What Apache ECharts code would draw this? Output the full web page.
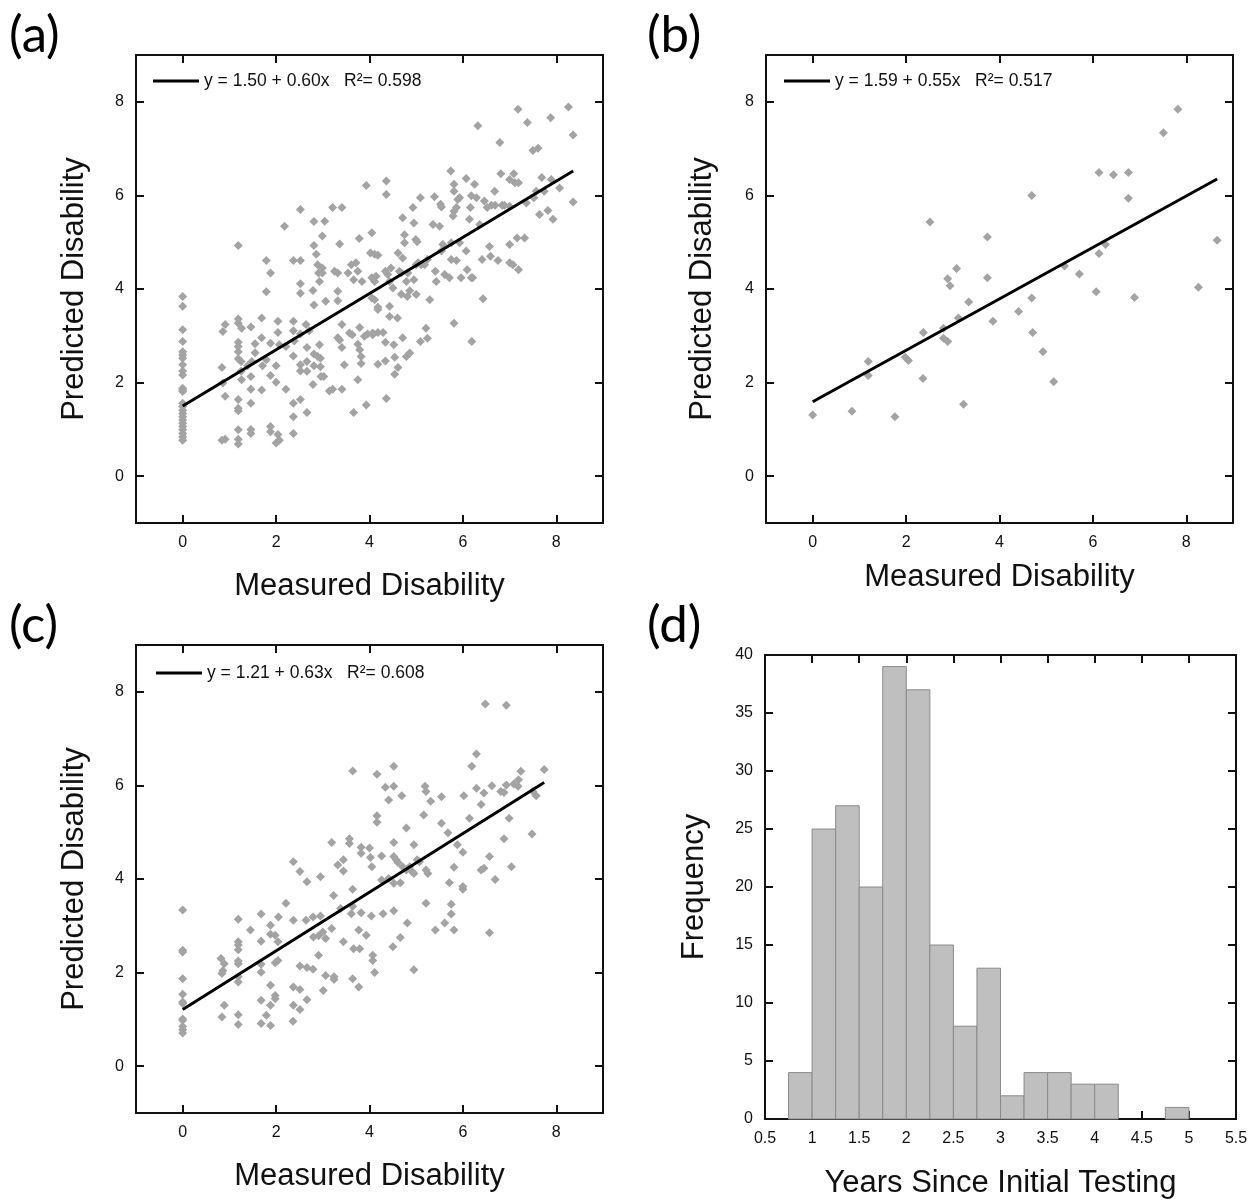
<!DOCTYPE html>
<html>
<head>
<meta charset="utf-8">
<script src="https://cdn.jsdelivr.net/npm/echarts@6/dist/echarts.min.js"></script>
<style>
body { margin: 0; background: #fff; }
#chart { width: 1260px; height: 1201px; }
</style>
</head>
<body>
<div id="chart"></div>
<script>
// tick labels
var disabilityTicks = [0, 2, 4, 6, 8];

// (a) measured vs predicted disability
var pointsA = [
  [0,3.84],[0,3.63],[0,3.13],[0,2.88],[0,2.66],[0,2.59],[0,2.52],[0,2.38],[0,2.25],[0,2.16],[0,1.88],[0,1.84],[0,1.81],
  [0,1.56],[0,1.49],[0,1.41],[0,1.34],[0,1.27],[0,1.2],[0,1.13],[0,1.06],[0,0.99],[0,0.91],[0,0.84],[0,0.77],
  [0.86,3.09],[0.91,3.24],[0.84,2.32],[0.86,1.99],[0.91,1.71],[0.84,0.77],[0.91,0.79],
  [1.19,4.93],[1.19,3.36],[1.19,3.27],[1.26,3.16],[1.19,2.86],[1.19,2.77],[1.19,2.66],[1.19,2.51],[1.25,2.45],[1.25,2.24],
  [1.26,2.06],[1.19,1.64],[1.19,1.45],[1.19,1.40],[1.19,0.99],[1.19,0.79],[1.19,0.69],
  [1.46,3.19],[1.55,2.83],[1.55,2.64],[1.48,2.45],[1.39,2.36],[1.46,2.13],[1.46,1.86],[1.46,1.56],[1.46,1.0],[1.46,0.91],
  [1.69,3.38],[1.69,2.96],[1.69,1.84],[1.79,4.61],[1.88,4.34],[1.79,3.94],[1.79,2.49],[1.88,2.84],[1.88,2.15],[1.88,1.06],
  [1.88,0.95],[1.71,2.36],
  [2.04,3.31],[2.04,3.07],[2.07,2.81],[2.0,2.36],[2.0,2.01],[2.21,2.77],[2.21,1.86],[2.18,5.34],[2.04,0.89],[2.0,0.71],[2.07,0.77],
  [2.37,3.31],[2.37,3.11],[2.39,2.89],[2.37,2.57],[2.37,1.56],[2.37,1.27],[2.37,0.91],[2.37,4.61],[2.52,4.61],[2.52,5.7],
  [2.52,4.11],[2.52,3.91],[2.52,3.04],[2.52,2.38],[2.52,2.25],[2.52,1.64],[2.64,3.24],[2.66,2.75],[2.66,2.45],[2.66,2.24],
  [2.66,1.36],[2.71,3.11],
  [2.79,3.97],[2.81,5.44],[2.81,4.93],[2.81,3.66],[2.81,2.61],[2.81,2.36],[2.79,1.96],[2.86,4.74],[2.89,4.52],[2.91,4.34],
  [2.93,4.16],[2.89,2.56],[2.95,2.52],[2.93,2.81],[2.99,4.34],[2.99,5.13],[3.04,5.45],[3.06,3.74],[3.02,2.13],[2.95,2.34],
  [2.96,2.13],[2.99,4.45],
  [3.21,5.74],[3.25,4.38],[3.32,4.34],[3.36,4.96],[3.32,3.95],[3.32,3.75],[3.32,2.96],[3.36,2.91],[3.41,2.75],[3.46,2.38],
  [3.14,1.82],[3.21,1.86],[3.41,1.86],[3.41,5.74],[3.41,3.24],
  [3.54,4.34],[3.61,4.52],[3.66,4.2],[3.71,4.56],[3.75,4.38],[3.84,4.16],[3.57,3.06],[3.63,3.02],[3.79,3.18],[3.75,2.82],
  [3.79,2.7],[3.82,2.56],[3.82,2.41],[3.75,2.06],[3.66,1.36],[3.78,5.08],[3.93,6.21],[3.89,2.99],[3.96,3.04],[3.93,1.52],
  [4.02,4.77],[4.05,5.2],[4.11,4.74],[4.18,4.72],[4.05,4.24],[4.11,4.16],[4.14,4.27],[4.05,3.81],[4.11,3.77],[4.18,3.56],
  [4.18,3.61],[4.07,3.06],[4.18,3.07],[4.29,3.07],[4.07,3.02],[4.18,2.39],[4.34,2.46],[4.36,6.31],[4.36,6.02],[4.34,4.38],
  [4.39,4.31],[4.36,1.66],[4.34,2.86],[4.43,3.63],[4.43,3.41],[4.52,2.81],[4.54,2.54],[4.61,4.77],[4.6,3.38],[4.54,2.18],
  [4.61,2.32],[4.43,4.16],[4.5,4.02],[4.46,4.45],[4.64,4.38],
  [4.71,5.52],[4.75,5.16],[4.75,4.99],[4.71,4.66],[4.68,4.34],[4.68,3.89],[4.71,2.96],[4.79,4.16],[4.81,3.84],[4.82,4.34],
  [4.86,2.63],[4.79,2.56],[4.93,5.74],[4.95,5.41],[4.99,5.06],[5.02,5.01],[5.0,4.52],[4.95,4.2],[5.0,3.88],[4.86,3.96],
  [5.04,4.56],[5.09,5.95],[5.11,4.52],[5.09,2.88],[5.21,3.16],[5.24,2.95],[5.29,3.77],
  [5.18,4.52],[5.24,4.63],[5.36,5.38],[5.39,5.97],[5.41,4.38],[5.43,4.16],[5.5,5.34],[5.52,5.81],[5.54,5.75],[5.54,4.81],
  [5.57,4.95],[5.61,4.31],[5.71,4.24],[5.74,6.52],[5.75,4.99],[5.75,4.63],[5.81,6.24],[5.81,6.09],[5.81,3.27],[5.81,5.66],
  [5.79,5.56],[5.86,4.61],[5.89,5.91],[5.93,5.95],[5.93,4.99],[5.96,4.24],[5.86,5.74],
  [6.07,6.36],[6.07,4.81],[6.09,4.41],[6.14,5.49],[6.16,5.74],[6.18,5.99],[6.18,4.24],[6.21,4.24],[6.19,2.88],[6.25,6.24],
  [6.29,5.95],[6.32,7.49],[6.36,5.38],[6.41,4.63],[6.43,3.79],[6.46,5.88],[6.52,5.74],[6.57,4.91],[6.59,4.7],[6.61,5.79],
  [6.68,6.09],[6.69,5.79],[6.75,4.61],[6.79,7.13],[6.81,6.46],[6.84,5.79],[6.89,5.79],[7.0,6.34],[7.0,5.77],[7.0,4.95],
  [7.0,4.56],[7.07,4.52],[7.09,6.46],[7.11,6.27],[7.18,7.84],[7.19,6.27],[7.16,5.09],[7.19,4.41],[7.32,5.09],[7.38,7.56],
  [7.36,5.84],[7.5,6.96],[7.52,5.95],[7.57,6.09],[7.61,7.01],[7.64,5.59],[7.69,6.38],[7.74,6.09],[7.82,5.68],[7.88,7.66],
  [7.89,6.34],[7.93,5.49],[8.07,6.16],[8.26,7.89],[8.36,7.29],[8.36,5.86]
];
var fitA = [[0, 1.50], [8.36, 6.52]];
var labelA = 'y = 1.50 + 0.60x   R²= 0.598';

// (b)
var pointsB = [
  [0,1.31],[0.84,1.39],[1.76,1.27],[1.19,2.45],[1.19,2.15],[1.98,2.54],[2.05,2.47],[2.36,2.09],[2.37,3.07],[2.51,5.43],
  [2.8,3.16],[2.8,2.95],[2.89,2.88],[2.89,4.22],[2.94,4.07],[3.08,4.44],[3.12,3.38],[3.23,1.54],[3.34,3.72],[3.74,5.11],
  [3.74,4.24],[3.86,3.31],[4.41,3.52],[4.69,6.0],[4.69,3.81],[4.71,3.07],[4.93,2.66],[5.16,2.02],[5.39,4.49],[5.71,4.32],
  [6.07,3.94],[6.13,6.49],[6.13,4.76],[6.27,4.95],[6.44,6.44],[6.76,6.49],[6.76,5.94],[6.89,3.82],[7.51,7.34],[7.82,7.84],
  [8.26,4.04],[8.66,5.04]
];
var fitB = [[0, 1.59], [8.66, 6.35]];
var labelB = 'y = 1.59 + 0.55x   R²= 0.517';

// (c)
var pointsC = [
  [0,3.34],[0,2.48],[0,2.44],[0,1.87],[0,1.54],[0,1.37],[0,1.34],[0,1.01],[0,0.98],[0,0.85],[0,0.78],[0,0.71],
  [0.82,2.3],[0.89,2.19],[0.84,1.98],[0.86,2.04],[0.89,1.3],[0.84,1.05],
  [1.19,3.14],[1.19,2.66],[1.19,2.59],[1.19,2.49],[1.19,2.25],[1.19,2.19],[1.19,1.91],[1.19,1.8],[1.19,1.1],[1.19,0.89],
  [1.45,2.91],[1.68,3.25],[1.68,2.67],[1.68,2.18],[1.68,2.01],[1.68,1.41],[1.68,0.91],[1.79,1.09],
  [1.88,3.01],[1.88,2.82],[1.98,2.8],[2.04,2.66],[2.04,2.26],[1.98,2.21],[1.88,1.73],[1.88,1.3],[1.88,0.87],[1.98,1.51],
  [1.98,1.44],[2.05,3.19],[2.21,3.48],
  [2.37,4.37],[2.37,3.12],[2.37,1.69],[2.37,1.3],[2.36,0.96],[2.51,4.16],[2.51,2.14],[2.51,1.64],[2.51,1.21],
  [2.66,3.94],[2.64,3.12],[2.66,1.42],[2.66,2.11],[2.79,3.19],[2.8,2.76],[2.79,2.07],[2.91,2.37],
  [2.95,4.05],[2.95,3.21],[3.0,2.87],[2.91,2.79],[3.01,1.62],[3.06,2.73],[3.06,1.94],[3.19,2.94],[3.24,1.91],[3.24,1.85],
  [3.19,4.78],[3.23,3.65],[3.32,4.3],[3.38,3.37],[3.44,4.41],[3.44,4.17],[3.44,2.66],[3.57,4.86],[3.57,4.76],[3.64,6.31],
  [3.64,3.78],[3.64,3.41],[3.61,3.26],[3.64,1.87],[3.66,2.51],[3.79,2.51],[3.77,1.69],[3.77,2.91],[3.82,4.68],[3.82,4.55],
  [3.82,3.28],[3.93,2.8],
  [4.0,4.66],[4.02,4.46],[4.05,4.26],[4.04,3.21],[4.07,2.37],[4.07,2.26],[4.11,2.0],[4.16,6.24],[4.16,5.35],[4.16,5.21],
  [4.26,4.49],[4.26,3.98],[4.29,3.26],[4.34,5.96],[4.41,5.69],[4.41,4.01],[4.52,6.41],[4.52,5.98],[4.52,4.78],[4.52,4.48],
  [4.52,3.91],[4.52,3.32],[4.5,2.55],[4.57,4.41],[4.61,4.35],[4.69,5.78],[4.66,3.92],[4.66,2.75],[4.71,4.26],[4.79,5.09],
  [4.79,4.19],[4.81,3.06],[4.86,4.26],[4.91,4.16],[4.95,4.73],[4.95,4.12],[4.95,2.06],[5.02,4.41],[5.07,4.37],
  [5.16,5.37],[5.19,5.98],[5.21,5.87],[5.21,4.19],[5.25,4.12],[5.21,3.48],[5.31,5.66],[5.41,2.91],[5.54,5.76],[5.54,5.19],
  [5.68,4.99],[5.71,3.92],[5.61,3.06],[5.75,3.46],[5.75,3.25],[5.81,4.25],[5.81,2.91],[5.88,4.73],[6.0,4.57],[6.0,3.84],
  [6.0,3.78],[6.02,5.78],[6.14,5.3],[6.19,6.41],[6.29,6.67],[6.29,5.94],[6.39,5.59],[6.39,4.19],[6.45,4.23],[6.45,5.84],
  [6.48,7.74],[6.57,4.48],[6.57,2.85],[6.62,5.99],[6.69,3.99],[6.81,5.87],[6.88,5.85],[6.88,4.86],[6.93,7.71],[6.93,6.01],
  [6.99,5.3],[7.04,4.26],[7.09,6.03],[7.18,5.98],[7.19,6.12],[7.24,6.3],[7.48,4.96],[7.5,5.87],[7.57,5.78],[7.74,6.34]
];
var fitC = [[0, 1.21], [7.74, 6.06]];
var labelC = 'y = 1.21 + 0.63x   R²= 0.608';

// (d) histogram of years since initial testing
var binStarts = [0.75, 1, 1.25, 1.5, 1.75, 2, 2.25, 2.5, 2.75, 3, 3.25, 3.5, 3.75, 4, 4.25, 4.5, 4.75];
var binCounts = [4, 25, 27, 20, 39, 37, 15, 8, 13, 2, 4, 4, 3, 3, 0, 0, 1];
var binWidth = 0.25;

var font = 'Liberation Sans, Arial, sans-serif';
var ink = '#111';

var histData = binStarts.map(function (s, i) {
  return [s, s + binWidth, binCounts[i]];
});

// grid boxes in px
var grids = [
  { left: 136, top: 55, width: 467, height: 468 },
  { left: 766, top: 55, width: 467, height: 468 },
  { left: 136, top: 645, width: 467, height: 468 },
  { left: 765, top: 655, width: 471, height: 464 }
];

function baseAxis(gridIndex, position, showLabel) {
  return {
    type: 'value',
    gridIndex: gridIndex,
    position: position,
    axisLine: { show: true, onZero: false, lineStyle: { color: ink, width: 2 } },
    axisTick: { show: true, inside: true, length: 8, lineStyle: { color: ink, width: 2 } },
    axisLabel: { show: showLabel, color: ink, fontSize: 16, fontFamily: font, margin: 12 },
    splitLine: { show: false }
  };
}

function disabilityAxis(gridIndex, position, showLabel) {
  var ax = baseAxis(gridIndex, position, showLabel);
  ax.min = -1;
  ax.max = 9;
  ax.axisTick.customValues = disabilityTicks;
  ax.axisLabel.customValues = disabilityTicks;
  return ax;
}

function nameStyle() {
  return { fontSize: 31, color: ink, fontFamily: font };
}

var xAxes = [];
var yAxes = [];
var xGaps = [48, 39, 48];
var yGaps = [46, 48, 46];
for (var g = 0; g < 3; g++) {
  var xb = disabilityAxis(g, 'bottom', true);
  xb.name = 'Measured Disability';
  xb.nameLocation = 'middle';
  xb.nameGap = xGaps[g];
  xb.nameTextStyle = nameStyle();
  xAxes.push(xb, disabilityAxis(g, 'top', false));
  var yl = disabilityAxis(g, 'left', true);
  yl.name = 'Predicted Disability';
  yl.nameLocation = 'middle';
  yl.nameGap = yGaps[g];
  yl.nameTextStyle = nameStyle();
  yAxes.push(yl, disabilityAxis(g, 'right', false));
}

var hx = baseAxis(3, 'bottom', true);
hx.min = 0.5; hx.max = 5.5; hx.interval = 0.5;
hx.name = 'Years Since Initial Testing';
hx.nameLocation = 'middle';
hx.nameGap = 49;
hx.nameTextStyle = nameStyle();
var hxTop = baseAxis(3, 'top', false);
hxTop.min = 0.5; hxTop.max = 5.5; hxTop.interval = 0.5;
xAxes.push(hx, hxTop);

var hy = baseAxis(3, 'left', true);
hy.min = 0; hy.max = 40; hy.interval = 5;
hy.name = 'Frequency';
hy.nameLocation = 'middle';
hy.nameGap = 55;
hy.nameTextStyle = nameStyle();
var hyRight = baseAxis(3, 'right', false);
hyRight.min = 0; hyRight.max = 40; hyRight.interval = 5;
yAxes.push(hy, hyRight);

function scatterSeries(idx, pts) {
  return {
    type: 'scatter',
    xAxisIndex: idx * 2,
    yAxisIndex: idx * 2,
    data: pts,
    symbol: 'diamond',
    symbolSize: 9,
    itemStyle: { color: '#a3a3a3', opacity: 1 },
    z: 2
  };
}

function fitSeries(idx, name, pts) {
  return {
    type: 'line',
    name: name,
    xAxisIndex: idx * 2,
    yAxisIndex: idx * 2,
    data: pts,
    symbol: 'none',
    lineStyle: { color: '#000', width: 3 },
    itemStyle: { color: '#000' },
    z: 3
  };
}

function legendFor(name, left, top) {
  return {
    data: [{ name: name, icon: 'rect' }],
    left: left,
    top: top,
    padding: 0,
    itemWidth: 46,
    itemHeight: 3,
    itemGap: 0,
    selectedMode: false,
    itemStyle: { color: '#000' },
    textStyle: { fontSize: 17.5, color: ink, fontFamily: font }
  };
}

function panelTitle(text, left, top) {
  return {
    text: text,
    left: left,
    top: top,
    padding: 0,
    textStyle: { fontSize: 51, fontWeight: 'normal', color: '#000', fontFamily: 'Lato, Open Sans, sans-serif' }
  };
}

var chart = echarts.init(document.getElementById('chart'));
chart.setOption({
  animation: false,
  backgroundColor: '#fff',
  title: [
    panelTitle('(a)', 9, 10),
    panelTitle('(b)', 647, 10),
    panelTitle('(c)', 9, 600),
    panelTitle('(d)', 647, 600)
  ],
  legend: [
    legendFor(labelA, 153, 72),
    legendFor(labelB, 784, 72),
    legendFor(labelC, 156, 664)
  ],
  grid: grids,
  xAxis: xAxes,
  yAxis: yAxes,
  series: [
    scatterSeries(0, pointsA),
    fitSeries(0, labelA, fitA),
    scatterSeries(1, pointsB),
    fitSeries(1, labelB, fitB),
    scatterSeries(2, pointsC),
    fitSeries(2, labelC, fitC),
    {
      type: 'custom',
      xAxisIndex: 6,
      yAxisIndex: 6,
      data: histData,
      encode: { x: [0, 1], y: 2 },
      renderItem: function (params, api) {
        if (api.value(2) <= 0) return null;
        var topLeft = api.coord([api.value(0), api.value(2)]);
        var bottomRight = api.coord([api.value(1), 0]);
        return {
          type: 'rect',
          shape: {
            x: topLeft[0],
            y: topLeft[1],
            width: bottomRight[0] - topLeft[0],
            height: bottomRight[1] - topLeft[1]
          },
          style: { fill: '#bfbfbf', stroke: '#8a8a8a', lineWidth: 1 }
        };
      },
      z: 1
    }
  ]
});
</script>
</body>
</html>
